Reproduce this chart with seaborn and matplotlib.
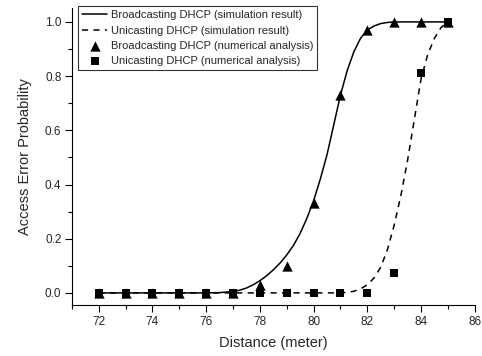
import numpy as np
import pandas as pd
import seaborn as sns
import matplotlib.pyplot as plt
from matplotlib.ticker import MultipleLocator

# simulation curves
bc_x = [72, 73, 74, 75, 76, 76.5, 77, 77.25, 77.5, 77.75, 78, 78.25, 78.5, 78.75, 79, 79.25,
        79.5, 79.75, 80, 80.25, 80.5, 80.75, 81, 81.25, 81.5, 81.75, 82, 82.25, 82.5, 82.75,
        83, 84, 85]
bc_y = [0, 0, 0, 0, 0, 0.001, 0.005, 0.01, 0.018, 0.03, 0.045, 0.063, 0.085, 0.11, 0.14, 0.175,
        0.22, 0.275, 0.34, 0.42, 0.51, 0.62, 0.73, 0.82, 0.89, 0.94, 0.97, 0.985, 0.994, 0.998,
        1.0, 1.0, 1.0]
uc_x = [72, 73, 74, 75, 76, 77, 78, 79, 80, 81, 81.25, 81.5, 81.75, 82, 82.25, 82.5, 82.75,
        83, 83.25, 83.5, 83.75, 84, 84.25, 84.5, 84.75, 85]
uc_y = [0, 0, 0, 0, 0, 0, 0, 0, 0, 0, 0.002, 0.006, 0.015, 0.03, 0.055, 0.095, 0.16,
        0.25, 0.36, 0.49, 0.64, 0.79, 0.88, 0.94, 0.98, 1.0]

# numerical analysis points
dist = [72, 73, 74, 75, 76, 77, 78, 79, 80, 81, 82, 83, 84, 85]
bc_num = [0, 0, 0, 0, 0, 0, 0.03, 0.10, 0.33, 0.73, 0.97, 1.0, 1.0, 1.0]
uc_num = [0, 0, 0, 0, 0, 0, 0, 0, 0, 0, 0, 0.075, 0.81, 1.0]

sns.set_style("ticks")
plt.rcParams['font.family'] = ['Liberation Sans', 'DejaVu Sans']

fig = plt.figure(figsize=(4.82, 3.56), dpi=100)
ax = fig.add_axes([0.149, 0.143, 0.836, 0.835])

sns.lineplot(x=bc_x, y=bc_y, ax=ax, color="black", lw=1.1,
             label="Broadcasting DHCP (simulation result)")
sns.lineplot(x=uc_x, y=uc_y, ax=ax, color="black", lw=1.1, linestyle=(0, (4, 3.5)),
             label="Unicasting DHCP (simulation result)")
sns.scatterplot(x=dist, y=bc_num, ax=ax, color="black", marker="^", s=55, linewidth=0,
                label="Broadcasting DHCP (numerical analysis)", zorder=3)
sns.scatterplot(x=dist, y=uc_num, ax=ax, color="black", marker="s", s=38, linewidth=0,
                label="Unicasting DHCP (numerical analysis)", zorder=3)

ax.set_xlim(71, 86)
ax.set_ylim(-0.045, 1.052)
ax.xaxis.set_major_locator(MultipleLocator(2))
ax.xaxis.set_minor_locator(MultipleLocator(1))
ax.yaxis.set_major_locator(MultipleLocator(0.2))
ax.yaxis.set_minor_locator(MultipleLocator(0.1))
ax.yaxis.set_major_formatter(plt.FormatStrFormatter("%.1f"))
ax.tick_params(which="major", direction="out", length=5, width=0.8, labelsize=8.5,
               color="black", pad=2.5)
ax.tick_params(which="minor", direction="out", length=3, width=0.8, color="black")
sns.despine(ax=ax)
for s in ["left", "bottom"]:
    ax.spines[s].set_color("black")
    ax.spines[s].set_linewidth(0.8)

ax.set_xlabel("Distance (meter)", fontsize=10.5, labelpad=6)
ax.set_ylabel("Access Error Probability", fontsize=10.5, labelpad=9)

leg = ax.legend(loc="upper left", bbox_to_anchor=(0.015, 1.005), fontsize=8, frameon=True,
                fancybox=False, edgecolor="black", handlelength=2.3, handletextpad=0.3,
                borderpad=0.35, labelspacing=0.48, borderaxespad=0)
leg.get_frame().set_linewidth(0.8)

fig.savefig("out.png", dpi=100)
